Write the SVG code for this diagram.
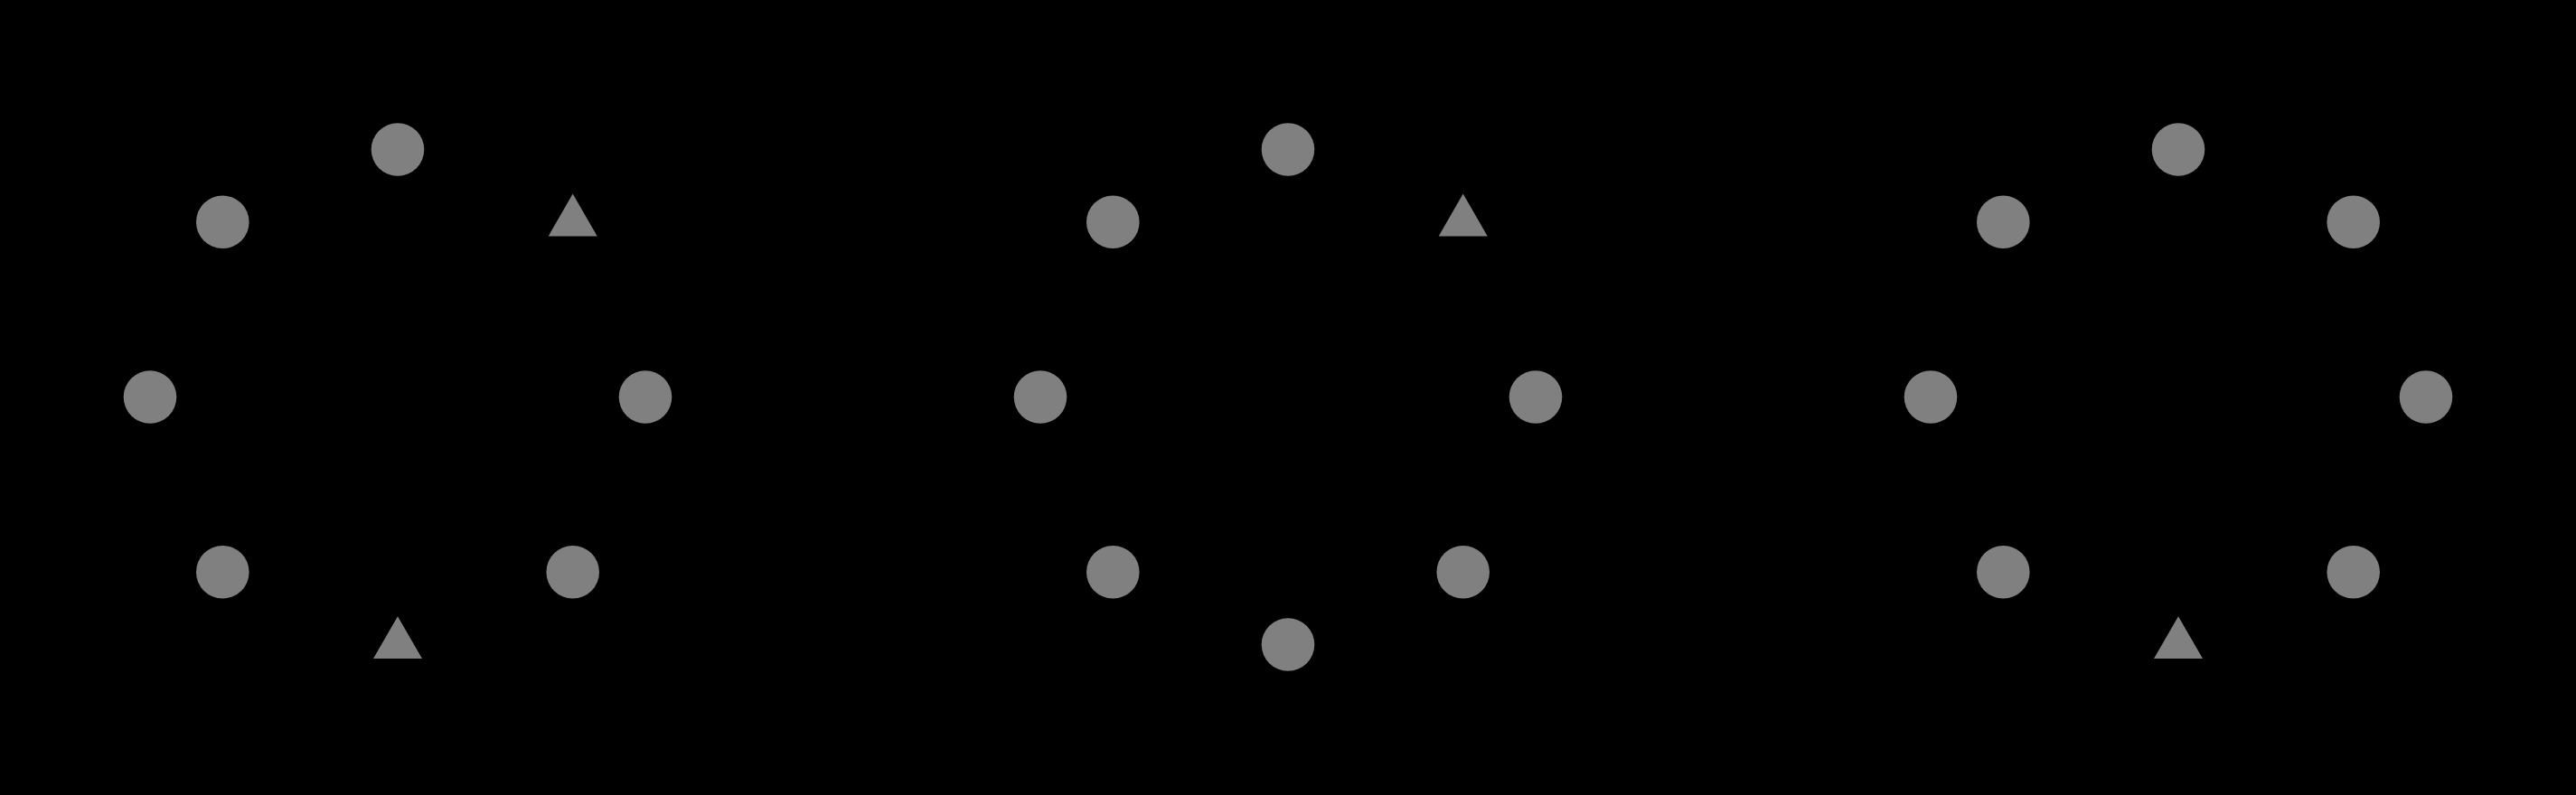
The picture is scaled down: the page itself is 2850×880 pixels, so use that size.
<svg xmlns="http://www.w3.org/2000/svg" width="2850" height="880" viewBox="0 0 2850 880">
<defs>
<style>
.n{fill:#808080;}
</style>
<circle id="dot" r="29.3"/>
<polygon id="tri" points="0,-31.2 27,15.6 -27,15.6"/>
</defs>
<rect width="2850" height="880" fill="#000"/>
<g id="connectors"/>
<g id="p1" transform="translate(440,439.5)">
<g id="p1n1"><use href="#dot" class="n" x="0" y="-274"/></g>
<g id="p1n2"><use href="#tri" class="n" x="193.7" y="-193.7"/></g>
<g id="p1n3"><use href="#dot" class="n" x="274" y="0"/></g>
<g id="p1n4"><use href="#dot" class="n" x="193.7" y="193.7"/></g>
<g id="p1n5"><use href="#tri" class="n" x="0" y="274"/></g>
<g id="p1n6"><use href="#dot" class="n" x="-193.7" y="193.7"/></g>
<g id="p1n7"><use href="#dot" class="n" x="-274" y="0"/></g>
<g id="p1n8"><use href="#dot" class="n" x="-193.7" y="-193.7"/></g>
</g>
<g id="p2" transform="translate(1425,439.5)">
<g id="p2n1"><use href="#dot" class="n" x="0" y="-274"/></g>
<g id="p2n2"><use href="#tri" class="n" x="193.7" y="-193.7"/></g>
<g id="p2n3"><use href="#dot" class="n" x="274" y="0"/></g>
<g id="p2n4"><use href="#dot" class="n" x="193.7" y="193.7"/></g>
<g id="p2n5"><use href="#dot" class="n" x="0" y="274"/></g>
<g id="p2n6"><use href="#dot" class="n" x="-193.7" y="193.7"/></g>
<g id="p2n7"><use href="#dot" class="n" x="-274" y="0"/></g>
<g id="p2n8"><use href="#dot" class="n" x="-193.7" y="-193.7"/></g>
</g>
<g id="p3" transform="translate(2410,439.5)">
<g id="p3n1"><use href="#dot" class="n" x="0" y="-274"/></g>
<g id="p3n2"><use href="#dot" class="n" x="193.7" y="-193.7"/></g>
<g id="p3n3"><use href="#dot" class="n" x="274" y="0"/></g>
<g id="p3n4"><use href="#dot" class="n" x="193.7" y="193.7"/></g>
<g id="p3n5"><use href="#tri" class="n" x="0" y="274"/></g>
<g id="p3n6"><use href="#dot" class="n" x="-193.7" y="193.7"/></g>
<g id="p3n7"><use href="#dot" class="n" x="-274" y="0"/></g>
<g id="p3n8"><use href="#dot" class="n" x="-193.7" y="-193.7"/></g>
</g>
</svg>
